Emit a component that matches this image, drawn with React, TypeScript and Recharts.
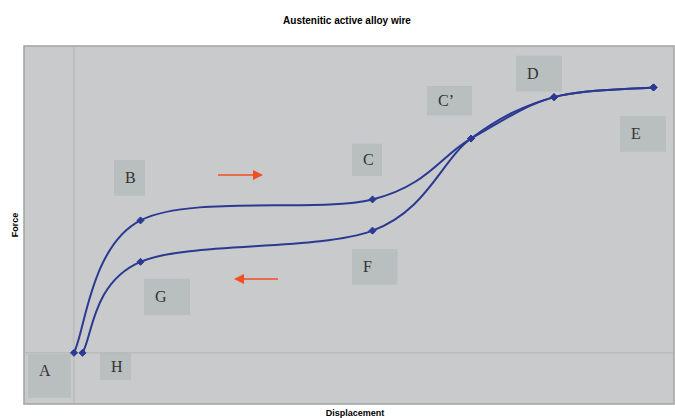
import React from 'react';
import {
  ComposedChart,
  Line,
  XAxis,
  YAxis,
  ReferenceLine,
  ReferenceArea,
  CartesianGrid,
} from 'recharts';

// Loading curve: A -> B -> C -> C' -> D -> E
const loadingX = [0, 1.33, 5.97, 7.94, 9.6, 11.59];
const loadingY = [0, 2.59, 3.0, 4.19, 5.0, 5.19];
// Unloading curve: H -> G -> F -> C' -> D -> E
const unloadingX = [0.17, 1.33, 5.97, 7.94, 9.6, 11.59];
const unloadingY = [0, 1.78, 2.39, 4.19, 5.0, 5.19];

// Annotation boxes (letter, x-range, y-range in data units)
const boxLabels = ['A', 'H', 'B', 'G', 'C', 'F', 'C\u2019', 'D', 'E'];
const boxX1 = [-0.92, 0.52, 0.8, 1.4, 5.56, 5.56, 7.06, 8.84, 10.92];
const boxX2 = [-0.06, 1.14, 1.42, 2.32, 6.16, 6.47, 7.96, 9.76, 11.84];
const boxY1 = [-0.88, -0.53, 3.07, 0.74, 3.46, 1.33, 4.64, 5.11, 3.93];
const boxY2 = [-0.02, 0.0, 3.77, 1.45, 4.09, 2.03, 5.22, 5.81, 4.63];

// Direction arrows: [xStart, xEnd, y]
const arrowXStart = [2.88, 4.08];
const arrowXEnd = [3.78, 3.2];
const arrowY = [3.48, 1.445];

const xDomain = [-1, 12];
const yDomain = [-1, 6];

const loadingData = loadingX.map((x, i) => ({ x, y: loadingY[i] }));
const unloadingData = unloadingX.map((x, i) => ({ x, y: unloadingY[i] }));

const LINE = '#2b3990';
const ARROW = '#f04e23';

// Smooth (Catmull-Rom style) curve, like a spreadsheet "smoothed line"
const smoothCurve = (context: any) => {
  let pts: number[][] = [];
  return {
    areaStart() {},
    areaEnd() {},
    lineStart() {
      pts = [];
    },
    point(x: number, y: number) {
      pts.push([+x, +y]);
    },
    lineEnd() {
      const n = pts.length;
      if (!n) return;
      context.moveTo(pts[0][0], pts[0][1]);
      for (let i = 0; i < n - 1; i++) {
        const p0 = pts[Math.max(i - 1, 0)];
        const p1 = pts[i];
        const p2 = pts[i + 1];
        const p3 = pts[Math.min(i + 2, n - 1)];
        const c1x = p1[0] + (p2[0] - p0[0]) / 6;
        const c1y = p1[1] + (p2[1] - p0[1]) / 6;
        const c2x = p2[0] - (p3[0] - p1[0]) / 6;
        const c2y = p2[1] - (p3[1] - p1[1]) / 6;
        context.bezierCurveTo(c1x, c1y, c2x, c2y, p2[0], p2[1]);
      }
    },
  };
};

const Diamond = (props: any) => {
  const { cx, cy, index } = props;
  if (cx == null || cy == null) return <g key={index} />;
  const r = 3.5;
  return (
    <path
      key={`d-${index}`}
      d={`M${cx},${cy - r}L${cx + r},${cy}L${cx},${cy + r}L${cx - r},${cy}Z`}
      fill={LINE}
      stroke={LINE}
    />
  );
};

const ArrowShape = (props: any) => {
  const { x1, y1, x2, y2 } = props;
  if (x1 == null) return null;
  const dir = x2 > x1 ? 1 : -1;
  const head = 10;
  const hw = 5;
  return (
    <g>
      <line x1={x1} y1={y1} x2={x2 - dir * head} y2={y2} stroke={ARROW} strokeWidth={1.5} />
      <path
        d={`M${x2},${y2}L${x2 - dir * head},${y2 - hw}L${x2 - dir * head},${y2 + hw}Z`}
        fill={ARROW}
      />
    </g>
  );
};

const BoxLabel = (props: any) => {
  const { viewBox, value } = props;
  if (!viewBox) return null;
  const { x, y, height } = viewBox;
  const cy = height > 40 ? y + 17 : y + height / 2;
  return (
    <text
      x={x + 11}
      y={cy}
      dominantBaseline="central"
      fontFamily="'Liberation Serif', 'DejaVu Serif', serif"
      fontSize={16}
      fill="#333333"
    >
      {value}
    </text>
  );
};

export default function App() {
  return (
    <div style={{ position: 'absolute', left: 0, top: 0, width: 675, height: 418, background: '#fff' }}>
      <ComposedChart
        width={675}
        height={418}
        margin={{ top: 46, right: 1, bottom: 14, left: 24 }}
      >
        <CartesianGrid horizontal={false} vertical={false} fill="#c9cacc" />
        <XAxis type="number" dataKey="x" domain={xDomain} hide allowDataOverflow />
        <YAxis type="number" dataKey="y" domain={yDomain} hide allowDataOverflow />
        <ReferenceArea
          x1={xDomain[0]}
          x2={xDomain[1]}
          y1={yDomain[0]}
          y2={yDomain[1]}
          fill="none"
          stroke="#a3a3a3"
          strokeWidth={1.5}
          fillOpacity={0}
        />
        <ReferenceLine x={0} stroke="#b2b3b5" strokeWidth={1} />
        <ReferenceLine y={0} stroke="#b2b3b5" strokeWidth={1} />
        {boxLabels.map((lab, i) => (
          <ReferenceArea
            key={lab}
            x1={boxX1[i]}
            x2={boxX2[i]}
            y1={boxY1[i]}
            y2={boxY2[i]}
            fill="#b9bebf"
            fillOpacity={1}
            stroke="none"
            label={<BoxLabel value={lab} />}
          />
        ))}
        {arrowY.map((y, i) => (
          <ReferenceLine
            key={`arr-${i}`}
            segment={[
              { x: arrowXStart[i], y },
              { x: arrowXEnd[i], y },
            ]}
            shape={<ArrowShape />}
          />
        ))}
        <Line
          data={unloadingData}
          dataKey="y"
          type={smoothCurve as any}
          stroke={LINE}
          strokeWidth={2}
          dot={<Diamond />}
          isAnimationActive={false}
        />
        <Line
          data={loadingData}
          dataKey="y"
          type={smoothCurve as any}
          stroke={LINE}
          strokeWidth={2}
          dot={<Diamond />}
          isAnimationActive={false}
        />
        <text
          x={347}
          y={20}
          textAnchor="middle"
          dominantBaseline="central"
          fontFamily="'Liberation Sans', Arial, sans-serif"
          fontWeight="bold"
          fontSize={10}
          fill="#000"
        >
          Austenitic active alloy wire
        </text>
        <text
          x={355}
          y={413}
          textAnchor="middle"
          dominantBaseline="central"
          fontFamily="'Liberation Sans', Arial, sans-serif"
          fontWeight="bold"
          fontSize={9}
          fill="#000"
        >
          Displacement
        </text>
        <text
          x={15}
          y={225}
          textAnchor="middle"
          dominantBaseline="central"
          transform="rotate(-90 15 225)"
          fontFamily="'Liberation Sans', Arial, sans-serif"
          fontWeight="bold"
          fontSize={9}
          fill="#000"
        >
          Force
        </text>
      </ComposedChart>
    </div>
  );
}
